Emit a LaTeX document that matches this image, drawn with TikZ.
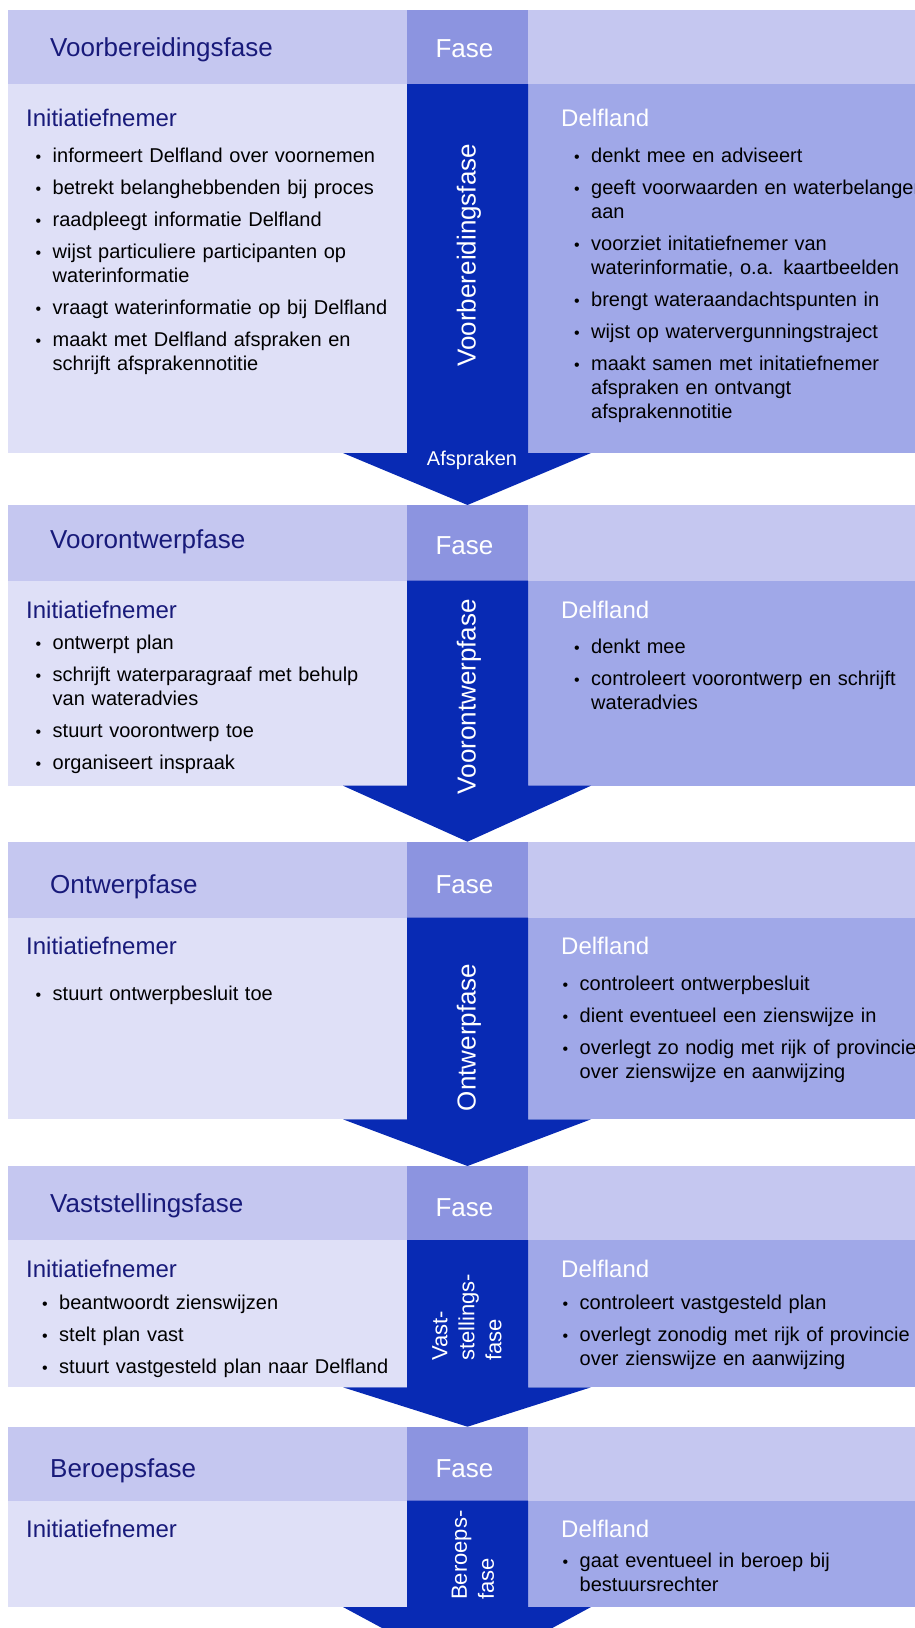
\documentclass[tikz,border=0pt]{standalone}
\usepackage{fontspec}
\setmainfont{Liberation Sans}

\definecolor{kopLicht}{RGB}{197,199,240}
\definecolor{kopFase}{RGB}{140,148,224}
\definecolor{vlakLinks}{RGB}{223,224,247}
\definecolor{vlakRechts}{RGB}{160,168,232}
\definecolor{pijlBlauw}{RGB}{8,42,180}
\definecolor{tekstBlauw}{RGB}{24,26,122}

% one bullet item with hanging indent
\newcommand{\punt}[1]{\hangindent=17pt\hangafter=1\noindent
  \hbox to 17pt{\fontsize{16}{16}\selectfont\textbullet\hss}#1\par}

% background of one phase: header top, header bottom, body bottom, arrow tip
\newcommand{\fasevlak}[4]{%
  \fill[kopLicht] (8,#1) rectangle (915,#2);
  \fill[kopFase] (407,#1) rectangle (528,#2);
  \fill[vlakLinks] (8,#2) rectangle (407,#3);
  \fill[vlakRechts] (528,#2) rectangle (915,#3);
  \fill[pijlBlauw] (407,#2) -- (528,#2) -- (528,#3) -- (591,#3)
    -- (467.5,#4) -- (343,#3) -- (407,#3) -- cycle;
}

\tikzset{
  kop/.style={font=\fontsize{26}{30}\selectfont, text=tekstBlauw, anchor=base west, inner sep=0pt},
  fasekop/.style={font=\fontsize{26}{30}\selectfont, text=white, anchor=base, inner sep=0pt},
  partij/.style={font=\fontsize{24}{28}\selectfont, anchor=base west, inner sep=0pt},
  lijst/.style={font=\fontsize{20}{24}\selectfont\setlength{\parskip}{8pt}, anchor=base west,
    inner sep=0pt, text width=380pt, align=left},
  staand/.style={font=\fontsize{26}{30}\selectfont, text=white, rotate=90, anchor=west, inner sep=0pt},
  staandklein/.style={font=\fontsize{22}{27}\selectfont, text=white, rotate=90, anchor=west,
    inner sep=0pt, align=left},
}

\begin{document}
\begin{tikzpicture}[x=1pt,y=-1pt]
  \useasboundingbox (0,0) rectangle (915,1628);
  \clip (0,0) rectangle (915,1628);

  % backgrounds
  \fasevlak{10}{84}{453}{505}
  \fasevlak{505}{580.7}{785.7}{841.7}
  \fasevlak{841.7}{917.7}{1119.3}{1166}
  \fasevlak{1166}{1240}{1387.3}{1426.7}
  \fasevlak{1426.7}{1500.7}{1607}{1674}

  % Voorbereidingsfase
  \node[kop] (kop1) at (50,56.5) {Voorbereidingsfase};
  \node[fasekop] (fase1) at (464.5,57.5) {Fase};
  \node[partij, text=tekstBlauw] (init1) at (26,126) {Initiatiefnemer};
  \node[partij, text=white] (delf1) at (561,126) {Delfland};
  \node[lijst] (links1) at (35.5,162.3) {%
    \punt{informeert Delfland over voornemen}
    \punt{betrekt belanghebbenden bij proces}
    \punt{raadpleegt informatie Delfland}
    \punt{wijst particuliere participanten op\newline waterinformatie}
    \punt{vraagt waterinformatie op bij Delfland}
    \punt{maakt met Delfland afspraken en\newline schrijft afsprakennotitie}};
  \node[lijst] (rechts1) at (574,162.3) {%
    \punt{denkt mee en adviseert}
    \punt{geeft voorwaarden en waterbelangen\newline aan}
    \punt{voorziet initatiefnemer van\newline waterinformatie, o.a. kaartbeelden}
    \punt{brengt wateraandachtspunten in}
    \punt{wijst op watervergunningstraject}
    \punt{maakt samen met initatiefnemer\newline afspraken en ontvangt\newline afsprakennotitie}};
  \node[staand] (pijl1) at (469,366.7) {Voorbereidingsfase};
  \node[font=\fontsize{20}{24}\selectfont, text=white, anchor=base, inner sep=0pt]
    (afspraken) at (472,465.5) {Afspraken};

  % Voorontwerpfase
  \node[kop] (kop2) at (50,548.3) {Voorontwerpfase};
  \node[fasekop] (fase2) at (464.5,554.5) {Fase};
  \node[partij, text=tekstBlauw] (init2) at (26,618.3) {Initiatiefnemer};
  \node[partij, text=white] (delf2) at (561,618.3) {Delfland};
  \node[lijst] (links2) at (35.5,649.5) {%
    \punt{ontwerpt plan}
    \punt{schrijft waterparagraaf met behulp\newline van wateradvies}
    \punt{stuurt voorontwerp toe}
    \punt{organiseert inspraak}};
  \node[lijst] (rechts2) at (574,653.5) {%
    \punt{denkt mee}
    \punt{controleert voorontwerp en schrijft\newline wateradvies}};
  \node[staand] (pijl2) at (469,794.5) {Voorontwerpfase};

  % Ontwerpfase
  \node[kop] (kop3) at (50,893.3) {Ontwerpfase};
  \node[fasekop] (fase3) at (464.5,893.3) {Fase};
  \node[partij, text=tekstBlauw] (init3) at (26,954.3) {Initiatiefnemer};
  \node[partij, text=white] (delf3) at (561,954.3) {Delfland};
  \node[lijst] (links3) at (35.5,1000.5) {%
    \punt{stuurt ontwerpbesluit toe}};
  \node[lijst] (rechts3) at (562.5,990) {%
    \punt{controleert ontwerpbesluit}
    \punt{dient eventueel een zienswijze in}
    \punt{overlegt zo nodig met rijk of provincie\newline over zienswijze en aanwijzing}};
  \node[staand] (pijl3) at (469,1111.3) {Ontwerpfase};

  % Vaststellingsfase
  \node[kop] (kop4) at (50,1212.7) {Vaststellingsfase};
  \node[fasekop] (fase4) at (464.5,1216.2) {Fase};
  \node[partij, text=tekstBlauw] (init4) at (26,1277.8) {Initiatiefnemer};
  \node[partij, text=white] (delf4) at (561,1277.8) {Delfland};
  \node[lijst] (links4) at (42,1309) {%
    \punt{beantwoordt zienswijzen}
    \punt{stelt plan vast}
    \punt{stuurt vastgesteld plan naar Delfland}};
  \node[lijst] (rechts4) at (562.5,1309) {%
    \punt{controleert vastgesteld plan}
    \punt{overlegt zonodig met rijk of provincie\newline over zienswijze en aanwijzing}};
  \node[staandklein] (pijl4) at (467,1361) {Vast-\\stellings-\\fase};

  % Beroepsfase
  \node[kop] (kop5) at (50,1477.3) {Beroepsfase};
  \node[fasekop] (fase5) at (464.5,1477) {Fase};
  \node[partij, text=tekstBlauw] (init5) at (26,1537.4) {Initiatiefnemer};
  \node[partij, text=white] (delf5) at (561,1537.4) {Delfland};
  \node[lijst] (rechts5) at (562.5,1567.5) {%
    \punt{gaat eventueel in beroep bij\newline bestuursrechter}};
  \node[staandklein] (pijl5) at (473,1600) {Beroeps-\\fase};
\end{tikzpicture}
\end{document}
